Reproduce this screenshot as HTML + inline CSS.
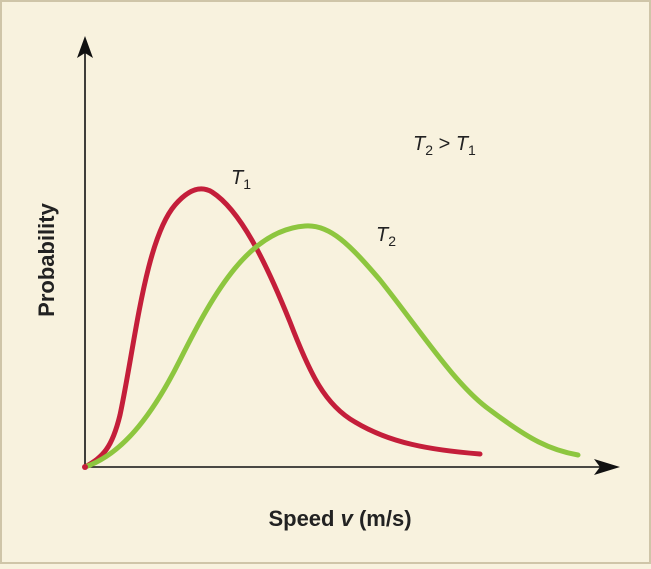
<!DOCTYPE html>
<html><head><style>
body{margin:0;width:651px;height:564px;overflow:hidden;background:#f8f2de}
</style></head><body>
<svg width="651" height="564" viewBox="0 0 651 564" xmlns="http://www.w3.org/2000/svg">
<rect x="1" y="1" width="649" height="562" fill="#f8f2de" stroke="#cfc5a8" stroke-width="2"/>
<line x1="85" y1="467" x2="85" y2="48" stroke="#111" stroke-width="1.6"/>
<polygon points="85,36 77,58 85,53 93,58" fill="#111"/>
<line x1="85" y1="467" x2="605" y2="467" stroke="#111" stroke-width="1.6"/>
<polygon points="620,467 594,459 600,467 594,475" fill="#111"/>
<path d="M85,467 C103,457 112,448 120,415 C135,345 145,240 175,205 C188,190 200,185 212,192 C240,210 265,260 290,322 C310,374 325,405 355,422 C390,443 430,450 480,454" fill="none" stroke="#c41e3a" stroke-width="5" stroke-linecap="round"/>
<path d="M85,467 C120,455 150,420 180,360 C215,290 250,230 305,226 C330,224 350,245 380,280 C420,330 455,385 490,410 C530,440 550,450 578,455" fill="none" stroke="#8dc63f" stroke-width="5" stroke-linecap="round"/>
<circle cx="85" cy="467" r="3" fill="#c41e3a"/>
<g font-family="'Liberation Sans',sans-serif" fill="#222">
<text x="231" y="184" font-size="20" font-style="italic">T<tspan font-size="14" dy="5" font-style="normal">1</tspan></text>
<text x="376" y="241" font-size="20" font-style="italic">T<tspan font-size="14" dy="5" font-style="normal">2</tspan></text>
<text x="413" y="150" font-size="20"><tspan font-style="italic">T</tspan><tspan font-size="14" dy="5">2</tspan><tspan dy="-5"> &gt; </tspan><tspan font-style="italic">T</tspan><tspan font-size="14" dy="5">1</tspan></text>
<text x="340" y="526" font-size="22" font-weight="bold" text-anchor="middle">Speed <tspan font-style="italic">v</tspan> (m/s)</text>
<text transform="translate(54,260) rotate(-90)" font-size="22" font-weight="bold" text-anchor="middle">Probability</text>
</g>
</svg>
</body></html>
